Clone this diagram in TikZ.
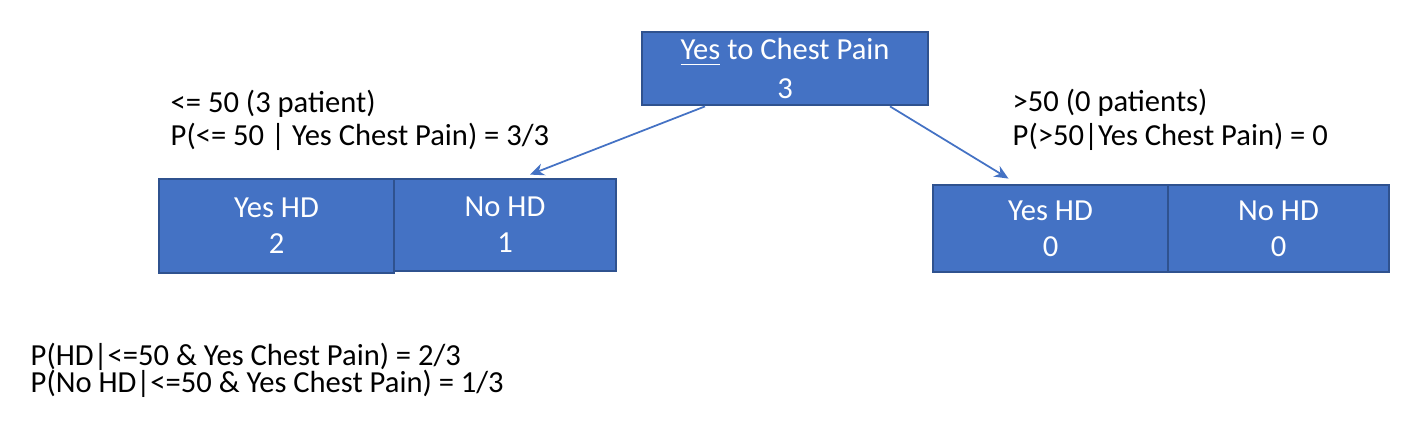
\documentclass[tikz,border=0pt]{standalone}
\usepackage{fontspec}
\setmainfont{Carlito}
\usetikzlibrary{arrows.meta}
\definecolor{boxblue}{HTML}{4472C4}
\definecolor{boxedge}{HTML}{2F528F}
\begin{document}
\begin{tikzpicture}[
  box/.style={shape=rectangle, draw=boxedge, line width=0.8pt, fill=boxblue, text=white, align=center, inner sep=0pt, font=\fontsize{8.7}{10.2}\selectfont},
  note/.style={anchor=west, inner sep=0pt, align=left, font=\fontsize{8.7}{10.2}\selectfont},
  link/.style={boxblue, line width=0.5pt, -{Stealth[length=4pt,width=3.5pt]}}
]
\useasboundingbox (0,0) rectangle (14.12,4.44);

\node[box, minimum width=2.86cm, minimum height=0.73cm] (top) at (7.85,3.755) {\underline{Yes} to Chest Pain\\[1pt]3};
\node[box, minimum width=2.35cm, minimum height=0.94cm] (yesL) at (2.765,2.18) {Yes HD\\2};
\node[box, minimum width=2.22cm, minimum height=0.92cm] (noL) at (5.05,2.19) {No HD\\1};
\node[box, minimum width=2.35cm, minimum height=0.87cm] (yesR) at (10.505,2.155) {Yes HD\\0};
\node[box, minimum width=2.21cm, minimum height=0.87cm] (noR) at (12.785,2.155) {No HD\\0};

\node[note] (le1) at (1.70,3.40) {<= 50 (3 patient)};
\node[note] (le2) at (1.70,3.07) {P(<= 50 | Yes Chest Pain) = 3/3};
\node[note] (gt1) at (10.12,3.41) {>50 (0 patients)};
\node[note] (gt2) at (10.12,3.07) {P(>50|Yes Chest Pain) = 0};
\node[note] (pr1) at (0.30,0.87) {P(HD|<=50 \& Yes Chest Pain) = 2/3};
\node[note] (pr2) at (0.30,0.60) {P(No HD|<=50 \& Yes Chest Pain) = 1/3};

\draw[link] ([xshift=-0.8cm]top.south) -- ([xshift=0.25cm,yshift=0.03cm]noL.north);
\draw[link] ([xshift=1.05cm]top.south) -- ([xshift=-0.42cm,yshift=0.05cm]yesR.north);
\end{tikzpicture}
\end{document}
